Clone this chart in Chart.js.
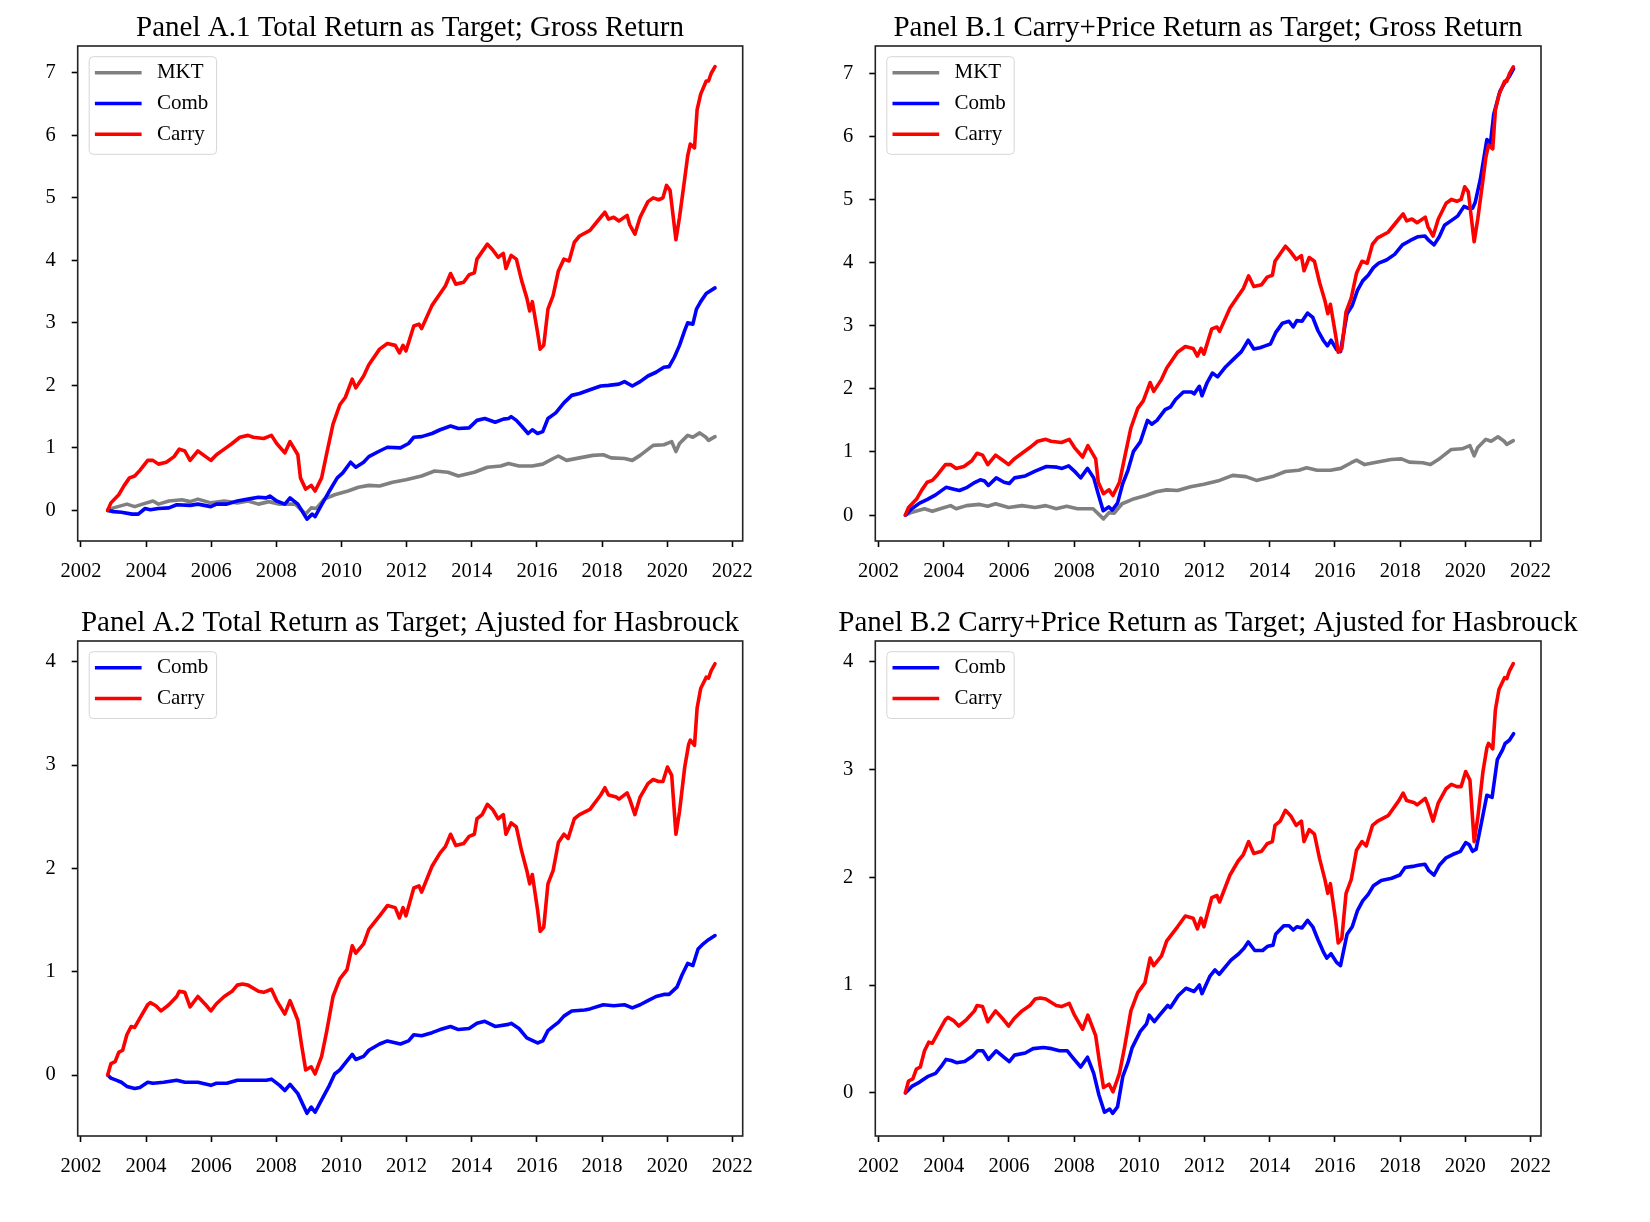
<!DOCTYPE html>
<html>
<head>
<meta charset="utf-8">
<script src="https://cdn.jsdelivr.net/npm/chart.js@4.4.0/dist/chart.umd.min.js"></script>
<style>
  html, body { margin: 0; padding: 0; background: #ffffff; }
  body { width: 1650px; height: 1222px; position: relative; overflow: hidden; }
  .panel { position: absolute; }
</style>
</head>
<body>
<div class="panel" style="left:0px;top:0px;width:820px;height:600px;"><canvas id="cA1"></canvas></div>
<div class="panel" style="left:800px;top:0px;width:816px;height:600px;"><canvas id="cB1"></canvas></div>
<div class="panel" style="left:0px;top:595px;width:820px;height:600px;"><canvas id="cA2"></canvas></div>
<div class="panel" style="left:800px;top:595px;width:816px;height:600px;"><canvas id="cB2"></canvas></div>
<script>
// ---------------- DATA ----------------
const panelTitles = [
  "Panel A.1 Total Return as Target; Gross Return",
  "Panel B.1 Carry+Price Return as Target; Gross Return",
  "Panel A.2 Total Return as Target; Ajusted for Hasbrouck",
  "Panel B.2 Carry+Price Return as Target; Ajusted for Hasbrouck"
];
const seriesNames = ["MKT", "Comb", "Carry"];
const xTickLabels = [2002, 2004, 2006, 2008, 2010, 2012, 2014, 2016, 2018, 2020, 2022];
const yTicksGross = [0, 1, 2, 3, 4, 5, 6, 7];
const yTicksAdj = [0, 1, 2, 3, 4];

// Carry, gross return (same in A.1 and B.1)
const carryGrossX = [2002.82,2002.92,2003.16,2003.33,2003.49,2003.65,2003.81,2004.05,2004.21,2004.38,2004.62,2004.86,2005.02,2005.19,2005.35,2005.59,2005.83,2005.99,2006.16,2006.40,2006.64,2006.88,2007.13,2007.29,2007.61,2007.85,2008.01,2008.26,2008.42,2008.66,2008.74,2008.90,2009.07,2009.19,2009.39,2009.55,2009.74,2009.95,2010.12,2010.33,2010.44,2010.68,2010.84,2011.17,2011.41,2011.65,2011.78,2011.89,2011.98,2012.22,2012.38,2012.46,2012.78,2013.03,2013.19,2013.35,2013.51,2013.75,2013.92,2014.08,2014.16,2014.32,2014.48,2014.64,2014.81,2014.97,2015.05,2015.21,2015.37,2015.53,2015.69,2015.78,2015.86,2016.02,2016.10,2016.21,2016.34,2016.50,2016.66,2016.83,2016.99,2017.15,2017.31,2017.63,2017.96,2018.09,2018.20,2018.36,2018.52,2018.77,2018.85,2019.01,2019.17,2019.41,2019.57,2019.74,2019.87,2019.98,2020.09,2020.27,2020.38,2020.54,2020.63,2020.71,2020.84,2020.92,2021.03,2021.20,2021.27,2021.35,2021.47];
const carryGrossY = [0,0.12,0.25,0.40,0.52,0.55,0.64,0.80,0.80,0.74,0.77,0.86,0.98,0.95,0.80,0.95,0.86,0.80,0.89,0.98,1.07,1.17,1.20,1.17,1.15,1.20,1.07,0.92,1.10,0.89,0.52,0.34,0.40,0.31,0.52,0.92,1.38,1.69,1.81,2.10,1.96,2.15,2.33,2.58,2.67,2.64,2.52,2.64,2.55,2.95,2.98,2.91,3.28,3.47,3.59,3.79,3.62,3.65,3.77,3.80,4.02,4.14,4.26,4.17,4.05,4.11,3.87,4.08,4.02,3.68,3.40,3.19,3.34,2.85,2.58,2.64,3.22,3.44,3.83,4.02,3.99,4.29,4.39,4.48,4.69,4.77,4.66,4.69,4.63,4.72,4.57,4.42,4.69,4.94,5.00,4.97,5.00,5.20,5.12,4.33,4.69,5.31,5.67,5.86,5.80,6.41,6.66,6.87,6.87,6.99,7.10];

// MKT, gross return (same in A.1 and B.1)
const mktGrossX = [2002.82,2003.00,2003.41,2003.65,2003.89,2004.21,2004.38,2004.70,2005.10,2005.35,2005.59,2005.99,2006.40,2006.80,2007.13,2007.45,2007.77,2008.10,2008.58,2008.90,2009.07,2009.23,2009.47,2009.79,2010.20,2010.52,2010.84,2011.17,2011.57,2011.98,2012.46,2012.86,2013.27,2013.59,2014.08,2014.48,2014.89,2015.13,2015.45,2015.86,2016.18,2016.50,2016.66,2016.91,2017.31,2017.72,2018.04,2018.28,2018.69,2018.93,2019.17,2019.57,2019.90,2020.14,2020.27,2020.38,2020.63,2020.79,2021.00,2021.19,2021.27,2021.47];
const mktGrossY = [0,0.04,0.10,0.06,0.10,0.15,0.10,0.15,0.17,0.14,0.18,0.12,0.15,0.12,0.15,0.10,0.14,0.10,0.10,-0.06,0.04,0.03,0.18,0.25,0.31,0.37,0.40,0.39,0.45,0.49,0.55,0.63,0.61,0.55,0.61,0.69,0.71,0.75,0.71,0.71,0.74,0.83,0.87,0.80,0.84,0.88,0.89,0.84,0.83,0.80,0.88,1.04,1.05,1.10,0.94,1.07,1.20,1.17,1.24,1.17,1.12,1.18];

// Comb, total return target, gross (A.1)
const combTotalGrossX = [2002.82,2003.00,2003.24,2003.57,2003.76,2003.97,2004.13,2004.38,2004.70,2004.94,2005.35,2005.59,2005.99,2006.16,2006.48,2006.80,2007.13,2007.45,2007.69,2007.80,2008.01,2008.26,2008.42,2008.66,2008.94,2009.10,2009.19,2009.39,2009.63,2009.87,2010.04,2010.28,2010.44,2010.68,2010.84,2011.17,2011.41,2011.81,2012.06,2012.22,2012.46,2012.78,2013.03,2013.35,2013.59,2013.92,2014.16,2014.40,2014.72,2014.97,2015.13,2015.21,2015.37,2015.53,2015.73,2015.86,2016.02,2016.18,2016.34,2016.58,2016.83,2017.07,2017.31,2017.63,2017.96,2018.20,2018.52,2018.69,2018.93,2019.17,2019.41,2019.66,2019.90,2020.06,2020.22,2020.38,2020.54,2020.63,2020.79,2020.90,2021.03,2021.20,2021.47];
const combTotalGrossY = [0,-0.02,-0.03,-0.06,-0.06,0.03,0.01,0.03,0.04,0.09,0.08,0.10,0.06,0.10,0.10,0.15,0.18,0.21,0.20,0.23,0.15,0.10,0.20,0.10,-0.14,-0.06,-0.10,0.09,0.31,0.52,0.60,0.77,0.69,0.77,0.86,0.95,1.01,1.00,1.07,1.17,1.18,1.23,1.29,1.35,1.31,1.32,1.44,1.47,1.41,1.46,1.47,1.50,1.44,1.35,1.23,1.29,1.23,1.26,1.47,1.56,1.72,1.84,1.87,1.93,1.99,2.00,2.02,2.06,1.99,2.06,2.15,2.21,2.29,2.30,2.45,2.64,2.88,3.00,2.98,3.22,3.34,3.47,3.56];

// Comb, carry+price return target, gross (B.1)
const combCPGrossX = [2002.83,2003.02,2003.26,2003.50,2003.75,2003.91,2004.07,2004.31,2004.48,2004.72,2004.96,2005.12,2005.25,2005.37,2005.61,2005.85,2006.01,2006.17,2006.50,2006.82,2007.15,2007.47,2007.63,2007.83,2008.04,2008.20,2008.41,2008.60,2008.73,2008.89,2009.06,2009.17,2009.33,2009.49,2009.65,2009.82,2010.03,2010.25,2010.38,2010.54,2010.79,2010.95,2011.11,2011.35,2011.60,2011.68,2011.84,2011.92,2012.08,2012.24,2012.40,2012.65,2012.89,2013.13,2013.34,2013.51,2013.70,2013.86,2014.02,2014.18,2014.39,2014.59,2014.72,2014.83,2014.99,2015.16,2015.32,2015.48,2015.64,2015.77,2015.88,2016.05,2016.17,2016.37,2016.53,2016.69,2016.85,2017.02,2017.18,2017.34,2017.58,2017.83,2018.07,2018.31,2018.55,2018.76,2018.88,2019.04,2019.20,2019.36,2019.61,2019.77,2019.96,2020.09,2020.22,2020.30,2020.46,2020.66,2020.77,2020.87,2021.06,2021.22,2021.35,2021.48];
const combCPGrossY = [0,0.10,0.19,0.25,0.32,0.38,0.44,0.41,0.39,0.44,0.52,0.56,0.54,0.47,0.59,0.52,0.50,0.59,0.62,0.70,0.77,0.76,0.74,0.78,0.68,0.59,0.74,0.59,0.35,0.07,0.13,0.08,0.19,0.50,0.71,1.01,1.16,1.50,1.44,1.50,1.67,1.71,1.83,1.95,1.95,1.92,2.04,1.89,2.10,2.25,2.19,2.35,2.47,2.59,2.77,2.63,2.65,2.68,2.71,2.89,3.04,3.07,2.98,3.08,3.07,3.20,3.13,2.92,2.77,2.68,2.77,2.62,2.59,3.19,3.32,3.56,3.71,3.80,3.92,3.99,4.04,4.13,4.28,4.35,4.41,4.42,4.35,4.28,4.41,4.59,4.68,4.74,4.89,4.86,4.86,4.95,5.32,5.95,5.89,6.35,6.71,6.86,6.95,7.07];

// Carry, adjusted for Hasbrouck (same in A.2 and B.2)
const carryAdjX = [2002.82,2002.92,2003.05,2003.16,2003.28,2003.41,2003.54,2003.65,2003.81,2004.05,2004.13,2004.30,2004.46,2004.70,2004.94,2005.02,2005.19,2005.35,2005.59,2005.83,2005.99,2006.16,2006.40,2006.64,2006.80,2006.96,2007.13,2007.45,2007.61,2007.85,2008.01,2008.26,2008.42,2008.66,2008.77,2008.90,2009.07,2009.19,2009.39,2009.55,2009.74,2009.95,2010.17,2010.33,2010.44,2010.68,2010.84,2011.17,2011.41,2011.65,2011.78,2011.89,2011.98,2012.22,2012.38,2012.46,2012.78,2013.03,2013.19,2013.35,2013.51,2013.75,2013.92,2014.08,2014.16,2014.32,2014.48,2014.64,2014.81,2014.97,2015.05,2015.21,2015.37,2015.53,2015.69,2015.78,2015.86,2016.02,2016.10,2016.21,2016.34,2016.50,2016.66,2016.83,2016.96,2017.15,2017.31,2017.63,2017.96,2018.09,2018.20,2018.44,2018.52,2018.77,2018.85,2019.01,2019.17,2019.41,2019.57,2019.74,2019.87,2020.01,2020.14,2020.27,2020.38,2020.54,2020.66,2020.71,2020.84,2020.92,2021.03,2021.20,2021.27,2021.35,2021.47];
const carryAdjY = [0,0.11,0.13,0.22,0.24,0.39,0.47,0.46,0.55,0.68,0.70,0.67,0.62,0.68,0.76,0.81,0.80,0.66,0.76,0.68,0.62,0.69,0.76,0.81,0.87,0.88,0.87,0.81,0.80,0.83,0.72,0.59,0.72,0.53,0.30,0.05,0.08,0.01,0.18,0.43,0.76,0.93,1.02,1.25,1.18,1.27,1.41,1.54,1.64,1.62,1.52,1.62,1.54,1.81,1.83,1.77,2.02,2.15,2.21,2.33,2.22,2.24,2.31,2.33,2.48,2.52,2.62,2.57,2.48,2.52,2.33,2.44,2.40,2.17,1.98,1.85,1.94,1.60,1.39,1.43,1.85,1.98,2.25,2.33,2.29,2.48,2.52,2.57,2.71,2.78,2.71,2.69,2.67,2.73,2.67,2.52,2.69,2.82,2.86,2.84,2.84,2.98,2.90,2.33,2.55,2.98,3.20,3.24,3.19,3.55,3.74,3.85,3.84,3.91,3.98];

// Comb, total return target, adjusted (A.2)
const combTotalAdjX = [2002.82,2002.92,2003.08,2003.24,2003.41,2003.65,2003.81,2004.05,2004.21,2004.54,2004.94,2005.19,2005.59,2005.99,2006.16,2006.48,2006.80,2007.13,2007.45,2007.69,2007.85,2008.10,2008.26,2008.42,2008.66,2008.94,2009.07,2009.19,2009.39,2009.63,2009.79,2009.95,2010.20,2010.33,2010.44,2010.68,2010.84,2011.17,2011.41,2011.81,2012.06,2012.22,2012.46,2012.78,2013.03,2013.35,2013.59,2013.92,2014.16,2014.40,2014.72,2015.13,2015.21,2015.45,2015.69,2015.82,2016.02,2016.18,2016.34,2016.50,2016.66,2016.83,2017.07,2017.47,2017.63,2018.04,2018.36,2018.69,2018.93,2019.17,2019.41,2019.66,2019.90,2020.06,2020.30,2020.46,2020.63,2020.79,2020.95,2021.11,2021.27,2021.47];
const combTotalAdjY = [0,-0.03,-0.05,-0.07,-0.11,-0.13,-0.12,-0.07,-0.08,-0.07,-0.05,-0.07,-0.07,-0.10,-0.08,-0.08,-0.05,-0.05,-0.05,-0.05,-0.04,-0.10,-0.15,-0.09,-0.18,-0.37,-0.31,-0.36,-0.24,-0.10,0.01,0.05,0.15,0.20,0.15,0.18,0.24,0.30,0.33,0.30,0.33,0.39,0.38,0.41,0.44,0.47,0.44,0.45,0.50,0.52,0.47,0.49,0.50,0.45,0.36,0.34,0.31,0.33,0.43,0.47,0.51,0.57,0.62,0.63,0.64,0.68,0.67,0.68,0.65,0.68,0.72,0.76,0.78,0.78,0.85,0.97,1.08,1.06,1.22,1.27,1.31,1.35];

// Comb, carry+price return target, adjusted (B.2)
const combCPAdjX = [2002.83,2003.02,2003.26,2003.50,2003.75,2003.91,2004.07,2004.23,2004.39,2004.64,2004.88,2005.04,2005.20,2005.37,2005.61,2005.85,2006.01,2006.17,2006.50,2006.74,2007.06,2007.31,2007.55,2007.79,2007.95,2008.20,2008.41,2008.60,2008.76,2008.93,2009.09,2009.18,2009.33,2009.49,2009.65,2009.78,2010.03,2010.22,2010.30,2010.46,2010.62,2010.87,2010.95,2011.19,2011.43,2011.68,2011.84,2011.92,2012.16,2012.32,2012.45,2012.81,2013.05,2013.21,2013.34,2013.54,2013.78,2013.94,2014.10,2014.18,2014.43,2014.59,2014.72,2014.83,2014.99,2015.16,2015.32,2015.48,2015.64,2015.75,2015.88,2016.05,2016.17,2016.37,2016.53,2016.69,2016.85,2017.02,2017.18,2017.42,2017.74,2017.99,2018.15,2018.39,2018.55,2018.76,2018.88,2019.04,2019.20,2019.41,2019.61,2019.85,2020.01,2020.12,2020.22,2020.33,2020.49,2020.66,2020.82,2020.98,2021.14,2021.22,2021.35,2021.48];
const combCPAdjY = [0,0.06,0.10,0.15,0.18,0.24,0.31,0.30,0.28,0.29,0.34,0.39,0.39,0.31,0.39,0.33,0.29,0.35,0.37,0.41,0.42,0.41,0.39,0.39,0.33,0.24,0.33,0.18,-0.02,-0.18,-0.15,-0.19,-0.13,0.15,0.28,0.42,0.57,0.64,0.72,0.66,0.72,0.81,0.79,0.90,0.97,0.94,1.00,0.92,1.08,1.14,1.10,1.23,1.29,1.34,1.40,1.32,1.32,1.36,1.37,1.47,1.55,1.55,1.51,1.54,1.53,1.60,1.54,1.42,1.31,1.25,1.29,1.21,1.18,1.47,1.54,1.69,1.78,1.84,1.92,1.97,1.99,2.02,2.09,2.10,2.11,2.12,2.06,2.02,2.11,2.18,2.21,2.24,2.32,2.30,2.24,2.26,2.50,2.76,2.74,3.09,3.18,3.24,3.27,3.33];

// ---------------- STYLE ----------------
const FONT = '"Liberation Serif", "DejaVu Serif", "Times New Roman", serif';
const COLORS = { MKT: '#808080', Comb: '#0000ff', Carry: '#ff0000' };
const X_MIN = 2001.9, X_MAX = 2022.32;
const LINE_W = 3.6;

const frameLegendPlugin = {
  id: 'frameLegend',
  afterDatasetsDraw(chart) {
    const ctx = chart.ctx, a = chart.chartArea;
    ctx.save();
    // axes frame (all four spines)
    ctx.strokeStyle = '#222222';
    ctx.lineWidth = 1.6;
    ctx.strokeRect(a.left, a.top, a.right - a.left, a.bottom - a.top);
    // legend box in the upper-left corner
    const ds = chart.data.datasets;
    const n = ds.length;
    const x0 = a.left + 11.5, y0 = a.top + 10.7;
    const w = 127.4, h = 16 + (n - 1) * 30.8 + 20;
    const r = 4;
    ctx.beginPath();
    ctx.moveTo(x0 + r, y0);
    ctx.lineTo(x0 + w - r, y0); ctx.quadraticCurveTo(x0 + w, y0, x0 + w, y0 + r);
    ctx.lineTo(x0 + w, y0 + h - r); ctx.quadraticCurveTo(x0 + w, y0 + h, x0 + w - r, y0 + h);
    ctx.lineTo(x0 + r, y0 + h); ctx.quadraticCurveTo(x0, y0 + h, x0, y0 + h - r);
    ctx.lineTo(x0, y0 + r); ctx.quadraticCurveTo(x0, y0, x0 + r, y0);
    ctx.closePath();
    ctx.fillStyle = 'rgba(255,255,255,0.8)';
    ctx.fill();
    ctx.strokeStyle = '#d6d6d6';
    ctx.lineWidth = 1;
    ctx.stroke();
    ds.forEach((d, i) => {
      const y = y0 + 16 + i * 30.8;
      ctx.beginPath();
      ctx.moveTo(x0 + 5.7, y);
      ctx.lineTo(x0 + 52.4, y);
      ctx.strokeStyle = d.borderColor;
      ctx.lineWidth = LINE_W;
      ctx.stroke();
      ctx.fillStyle = '#000000';
      ctx.font = '21px ' + FONT;
      ctx.textAlign = 'left';
      ctx.textBaseline = 'middle';
      ctx.fillText(d.label, x0 + 67.7, y);
    });
    ctx.restore();
  }
};

function makeDataset(name, xs, ys) {
  const order = { MKT: 2, Comb: 1, Carry: 0 }[name];
  return {
    label: name,
    data: xs.map((x, i) => ({ x: x, y: ys[i] })),
    borderColor: COLORS[name],
    backgroundColor: COLORS[name],
    borderWidth: LINE_W,
    pointRadius: 0,
    tension: 0,
    fill: false,
    borderJoinStyle: 'round',
    borderCapStyle: 'round',
    order: order
  };
}

function makeChart(canvasId, title, datasets, yMin, yMax, yTicks, leftW, rightW) {
  new Chart(document.getElementById(canvasId), {
    type: 'line',
    data: { datasets: datasets },
    options: {
      responsive: true,
      maintainAspectRatio: false,
      animation: false,
      events: [],
      layout: { padding: 0 },
      plugins: {
        legend: { display: false },
        tooltip: { enabled: false },
        title: {
          display: true,
          text: title,
          color: '#000000',
          font: { family: FONT, size: 29, weight: 'normal', lineHeight: 1.0 },
          padding: { top: 14, bottom: 3 }
        }
      },
      scales: {
        x: {
          type: 'linear',
          min: X_MIN,
          max: X_MAX,
          afterBuildTicks: ax => { ax.ticks = xTickLabels.map(v => ({ value: v })); },
          afterFit: ax => { ax.height = 59; },
          ticks: {
            callback: v => String(v),
            color: '#000000',
            font: { family: FONT, size: 20.5 },
            padding: 12,
            maxRotation: 0,
            autoSkip: false
          },
          grid: { display: true, drawOnChartArea: false, drawTicks: true, tickLength: 6, tickWidth: 1.6, color: '#000000' },
          border: { display: false }
        },
        y: {
          type: 'linear',
          position: 'left',
          min: yMin,
          max: yMax,
          afterBuildTicks: ax => { ax.ticks = yTicks.map(v => ({ value: v })); },
          afterFit: ax => { ax.width = leftW; },
          ticks: {
            callback: v => String(v),
            color: '#000000',
            font: { family: FONT, size: 20.5 },
            padding: 16,
            autoSkip: false
          },
          grid: { display: true, drawOnChartArea: false, drawTicks: true, tickLength: 6, tickWidth: 1.6, color: '#000000' },
          border: { display: false }
        },
        yR: {
          type: 'linear',
          position: 'right',
          display: true,
          ticks: { display: false },
          grid: { display: false },
          border: { display: false },
          afterFit: ax => { ax.width = rightW; }
        }
      }
    },
    plugins: [frameLegendPlugin]
  });
}

makeChart('cA1', panelTitles[0], [
  makeDataset(seriesNames[0], mktGrossX, mktGrossY),
  makeDataset(seriesNames[1], combTotalGrossX, combTotalGrossY),
  makeDataset(seriesNames[2], carryGrossX, carryGrossY)
], -0.49, 7.43, yTicksGross, 77.7, 77.3);

makeChart('cB1', panelTitles[1], [
  makeDataset(seriesNames[0], mktGrossX, mktGrossY),
  makeDataset(seriesNames[1], combCPGrossX, combCPGrossY),
  makeDataset(seriesNames[2], carryGrossX, carryGrossY)
], -0.41, 7.43, yTicksGross, 75.3, 75);

makeChart('cA2', panelTitles[2], [
  makeDataset(seriesNames[1], combTotalAdjX, combTotalAdjY),
  makeDataset(seriesNames[2], carryAdjX, carryAdjY)
], -0.59, 4.2, yTicksAdj, 77.7, 77.3);

makeChart('cB2', panelTitles[3], [
  makeDataset(seriesNames[1], combCPAdjX, combCPAdjY),
  makeDataset(seriesNames[2], carryAdjX, carryAdjY)
], -0.40, 4.19, yTicksAdj, 75.3, 75);
</script>
</body>
</html>
